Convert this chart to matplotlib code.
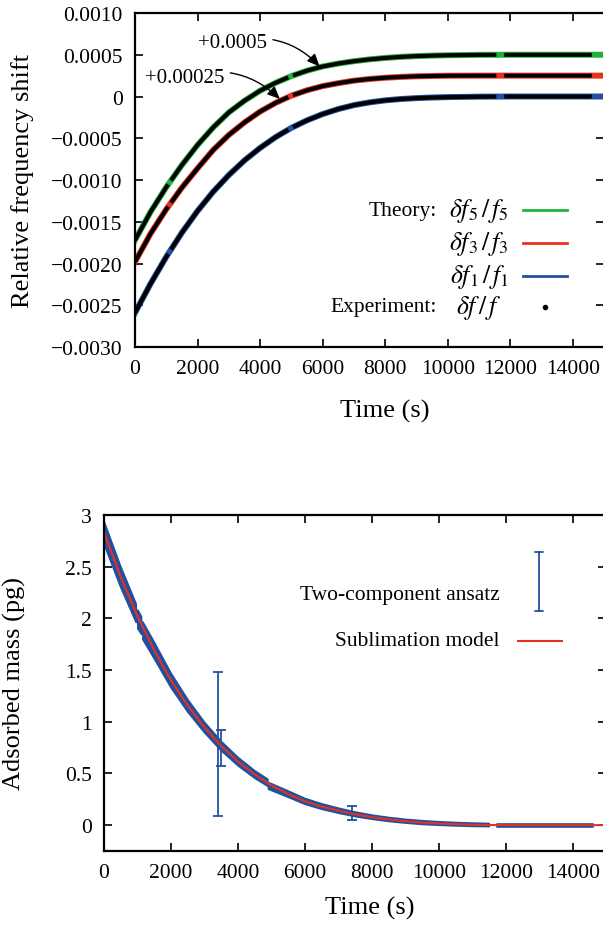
import numpy as np
import matplotlib.pyplot as plt

plt.rcParams['font.family'] = ['Liberation Serif', 'DejaVu Serif']
plt.rcParams['mathtext.fontset'] = 'stix'

green = '#22b03c'
red = '#e5321f'
blue = '#22509f'
nan = float('nan')

# --- top panel: relative frequency shift, values in units of 1e-3 ---
time = [0, 500, 1000, 1500, 2000, 2500, 3000, 3500, 4000, 4500, 5000, 5500, 6000,
        6500, 7000, 7500, 8000, 8500, 9000, 9500, 10000, 11000, 12000, 13000, 14000, 15000]
theory_f1 = [-2.59, -2.24, -1.92, -1.63, -1.37, -1.14, -0.94, -0.765, -0.615, -0.485,
             -0.375, -0.285, -0.21, -0.15, -0.103, -0.07, -0.046, -0.030, -0.019,
             -0.012, -0.007, -0.002, 0, 0, 0, 0]
theory_f3 = [-1.98, -1.64, -1.35, -1.09, -0.86, -0.64, -0.46, -0.31, -0.18, -0.075,
             0.01, 0.075, 0.125, 0.16, 0.19, 0.21, 0.225, 0.235, 0.242, 0.246, 0.249,
             0.25, 0.25, 0.25, 0.25, 0.25]
theory_f5 = [-1.72, -1.38, -1.085, -0.82, -0.58, -0.37, -0.19, -0.05, 0.07, 0.165,
             0.245, 0.31, 0.36, 0.395, 0.423, 0.445, 0.462, 0.475, 0.484, 0.49, 0.494,
             0.499, 0.5, 0.5, 0.5, 0.5]

# measured data (nan = no data recorded)
exp_time = [0, 500, 1000, 1060, nan, 1150, 1500, 2000, 2500, 3000, 3500, 4000, 4500,
            4900, nan, 5050, 5500, 6000, 6500, 7000, 7500, 8000, 8500, 9000, 9500,
            10000, 11000, 11550, nan, 11800, 12000, 13000, 14000, 14600]
exp_f1 = [-2.59, -2.24, -1.92, -1.885, nan, -1.833, -1.63, -1.37, -1.14, -0.94, -0.765,
          -0.615, -0.485, -0.397, nan, -0.366, -0.285, -0.21, -0.15, -0.103, -0.07,
          -0.046, -0.030, -0.019, -0.012, -0.007, -0.002, -0.001, nan, 0, 0, 0, 0, 0]
exp_f3 = [-1.98, -1.64, -1.35, -1.319, nan, -1.272, -1.09, -0.86, -0.64, -0.46, -0.31,
          -0.18, -0.075, -0.007, nan, 0.0165, 0.075, 0.125, 0.16, 0.19, 0.21, 0.225,
          0.235, 0.242, 0.246, 0.249, 0.25, 0.25, nan, 0.25, 0.25, 0.25, 0.25, 0.25]
exp_f5 = [-1.72, -1.38, -1.085, -1.053, nan, -1.005, -0.82, -0.58, -0.37, -0.19, -0.05,
          0.07, 0.165, 0.229, nan, 0.2515, 0.31, 0.36, 0.395, 0.423, 0.445, 0.462,
          0.475, 0.484, 0.49, 0.494, 0.499, 0.4995, nan, 0.5, 0.5, 0.5, 0.5, 0.5]

top_yticks = [-0.003, -0.0025, -0.002, -0.0015, -0.001, -0.0005, 0, 0.0005, 0.001]
top_ylabels = ['\u22120.0030', '\u22120.0025', '\u22120.0020', '\u22120.0015',
               '\u22120.0010', '\u22120.0005', '0', '0.0005', '0.0010']
xticks = [0, 2000, 4000, 6000, 8000, 10000, 12000, 14000]

# --- bottom panel: adsorbed mass (pg) ---
model_time = [0, 500, 1000, 1500, 2000, 2500, 3000, 3500, 4000, 4500, 5000, 5500, 6000,
              6500, 7000, 7500, 8000, 8500, 9000, 9500, 10000, 10500, 11000, 11500,
              12000, 13000, 14000, 15000]
model_mass = [2.83, 2.40, 2.02, 1.69, 1.40, 1.155, 0.945, 0.765, 0.615, 0.49, 0.385,
              0.30, 0.23, 0.18, 0.14, 0.105, 0.077, 0.055, 0.038, 0.025, 0.016, 0.009,
              0.004, 0.001, 0, 0, 0, 0]
ansatz_time = [0, 500, 960, nan, 1010, 1120, nan, 1160, 1500, 2000, 2500, 3000, 3500,
               4000, 4500, 4890, nan, 4910, 5500, 6000, 6500, 7000, 7500, 8000, 8500,
               9000, 9500, 10000, 10500, 11000, 11500, nan, 11720, 12000, 13000, 14000,
               14600]
ansatz_mass = [2.83, 2.40, 2.05, nan, 1.99, 1.93, nan, 1.88, 1.69, 1.40, 1.155, 0.945,
               0.765, 0.615, 0.49, 0.41, nan, 0.38, 0.30, 0.23, 0.18, 0.14, 0.105, 0.077,
               0.055, 0.038, 0.025, 0.016, 0.009, 0.004, 0.001, nan, 0, 0, 0, 0, 0]
ansatz_spread = [0.11, 0.10, 0.09, nan, 0.09, 0.085, nan, 0.085, 0.08, 0.07, 0.06, 0.05,
                 0.045, 0.04, 0.036, 0.034, nan, 0.033, 0.03, 0.028, 0.026, 0.024, 0.022,
                 0.02, 0.019, 0.018, 0.018, 0.017, 0.016, 0.016, 0.015, nan, 0.015,
                 0.015, 0.015, 0.015, 0.015]
ebar_time = [3410, 3490, 7390]
ebar_low = [0.087, 0.573, 0.05]
ebar_high = [1.48, 0.916, 0.19]
bottom_yticks = [0, 0.5, 1, 1.5, 2, 2.5, 3]
bottom_ylabels = ['0', '0.5', '1', '1.5', '2', '2.5', '3']

fig = plt.figure(figsize=(6.03, 9.28), dpi=100)


def style(ax):
    for s in ax.spines.values():
        s.set_linewidth(1.6)
    ax.tick_params(direction='in', length=6, width=1.2, top=True, right=True,
                   labelsize=15.5, pad=9)
    ax.set_xlim(0, 15000)
    ax.set_xticks(xticks)


ax1 = fig.add_axes([0.2239, 0.625, 0.7783, 0.3599])
style(ax1)
ax1.plot(time, np.array(theory_f5) * 1e-3, color=green, lw=4.3)
ax1.plot(time, np.array(theory_f3) * 1e-3, color=red, lw=4.3)
ax1.plot(time, np.array(theory_f1) * 1e-3, color=blue, lw=4.3)
for vals in (exp_f5, exp_f3, exp_f1):
    ax1.plot(exp_time, np.array(vals) * 1e-3, color='black', lw=2.9,
             solid_capstyle='butt')
ax1.set_ylim(-0.003, 0.001)
ax1.set_yticks(top_yticks)
ax1.set_yticklabels(top_ylabels)
ax1.set_ylabel('Relative frequency shift', fontsize=19)
ax1.set_xlabel('Time (s)', fontsize=19)
ax1.yaxis.set_label_coords(-0.215, 0.5)
ax1.xaxis.set_label_coords(0.533, -0.155)

arrow = dict(arrowstyle='-|>,head_length=0.5,head_width=0.22',
             connectionstyle='arc3,rad=-0.3', color='black', lw=1, shrinkA=2, shrinkB=0)
ax1.annotate('+0.0005', xy=(5900, 0.00036), xytext=(3130, 0.00065), fontsize=15,
             ha='center', va='center', arrowprops=arrow)
ax1.annotate('+0.00025', xy=(4630, -0.00003), xytext=(1600, 0.00023), fontsize=15,
             ha='center', va='center', arrowprops=arrow)

# key drawn gnuplot-style: right-justified text, sample to the right
keys = [('Theory:', r'$\delta f_5\,/\,f_5$', green, 0.410),
        ('', r'$\delta f_3\,/\,f_3$', red, 0.311),
        ('', r'$\delta f_1\,/\,f_1$', blue, 0.213),
        ('Experiment:', r'$\delta f\,/\,f$', None, 0.120)]
for head, sym, col, yk in keys:
    ax1.text(0.6435, yk, head, transform=ax1.transAxes, ha='right', va='center',
             fontsize=15.5)
    ax1.text(0.733, yk, sym, transform=ax1.transAxes, ha='center', va='center',
             fontsize=18.5)
    if col is None:
        ax1.plot([0.8737], [yk], 'o', color='black', ms=3, transform=ax1.transAxes)
    else:
        ax1.plot([0.8268, 0.9205], [yk, yk], color=col, lw=2, transform=ax1.transAxes)

ax2 = fig.add_axes([0.1725, 0.0819, 0.8333, 0.3621])
style(ax2)
am = np.array(ansatz_mass)
asp = np.array(ansatz_spread)
ax2.fill_between(ansatz_time, am - asp, am + asp, color=blue, lw=1.2, edgecolor=blue)
mid = [(lo + hi) / 2 for lo, hi in zip(ebar_low, ebar_high)]
err = [[m - lo for m, lo in zip(mid, ebar_low)], [hi - m for m, hi in zip(mid, ebar_high)]]
ax2.errorbar(ebar_time, mid, yerr=err, fmt='none', ecolor=blue, elinewidth=1.3,
             capsize=3.5, capthick=1.3)
ax2.plot(model_time, model_mass, color=red, lw=1.5)
ax2.set_ylim(-0.25, 3)
ax2.set_yticks(bottom_yticks)
ax2.set_yticklabels(bottom_ylabels)
ax2.set_ylabel('Adsorbed mass (pg)', fontsize=19)
ax2.set_xlabel('Time (s)', fontsize=19)
ax2.yaxis.set_label_coords(-0.155, 0.5)
ax2.xaxis.set_label_coords(0.529, -0.135)

ax2.text(0.788, 0.762, 'Two-component ansatz', transform=ax2.transAxes, ha='right',
         va='center', fontsize=15.5)
ax2.annotate('', xy=(0.8657, 0.890), xytext=(0.8657, 0.714), xycoords='axes fraction',
             arrowprops=dict(arrowstyle='|-|,widthA=0.3,widthB=0.3', color=blue,
                             lw=1.3, shrinkA=0, shrinkB=0))
ax2.text(0.788, 0.625, 'Sublimation model', transform=ax2.transAxes, ha='right',
         va='center', fontsize=15.5)
ax2.plot([0.824, 0.911], [0.625, 0.625], color=red, lw=1.5, transform=ax2.transAxes)

fig.savefig('out.png', dpi=100)
